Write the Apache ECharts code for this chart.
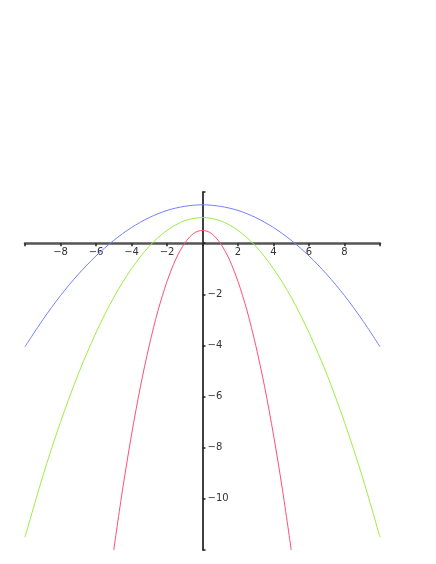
<!DOCTYPE html>
<html>
<head>
<meta charset="utf-8">
<script src="https://cdn.jsdelivr.net/npm/echarts@6/dist/echarts.min.js"></script>
<style>
  html, body { margin: 0; padding: 0; background: #fff; }
  #box { width: 436px; height: 564px; }
</style>
</head>
<body>
<div id="box"></div>
<script>
var chart = echarts.init(document.getElementById("box"));

// points, x from -10 to 10
var xBlue = [-10, -9, -8, -7, -6, -5, -4, -3, -2, -1, 0, 1, 2, 3, 4, 5, 6, 7, 8, 9, 10];
var yBlue = [-4.05, -3.0, -2.05, -1.22, -0.5, 0.11, 0.61, 1.0, 1.28, 1.44, 1.5, 1.44, 1.28, 1.0, 0.61, 0.11, -0.5, -1.22, -2.05, -3.0, -4.05];

var xGreen = [-10, -9, -8, -7, -6, -5, -4, -3, -2, -1, 0, 1, 2, 3, 4, 5, 6, 7, 8, 9, 10];
var yGreen = [-11.5, -9.12, -7.0, -5.12, -3.5, -2.12, -1.0, -0.12, 0.5, 0.88, 1.0, 0.88, 0.5, -0.12, -1.0, -2.12, -3.5, -5.12, -7.0, -9.12, -11.5];

var xRed = [-5, -4.5, -4, -3.5, -3, -2.5, -2, -1.5, -1, -0.5, 0, 0.5, 1, 1.5, 2, 2.5, 3, 3.5, 4, 4.5, 5];
var yRed = [-12, -9.62, -7.5, -5.62, -4.0, -2.62, -1.5, -0.62, 0.0, 0.38, 0.5, 0.38, 0.0, -0.62, -1.5, -2.62, -4.0, -5.62, -7.5, -9.62, -12];

var xTicks = [-8, -6, -4, -2, 2, 4, 6, 8];
var yTicks = [-2, -4, -6, -8, -10];

function pairs(xs, ys) {
  var out = [];
  for (var i = 0; i < xs.length; i++) out.push([xs[i], ys[i]]);
  return out;
}
function minus(v) {
  return String(v).replace('-', '\u2212');
}

// grid box: left 25, top 192, width 355, height 358
// axes are moved onto x=0 / y=0 with offsets (y=0 is 2 of 14 units down, x=0 is half way)
var gridL = 25, gridT = 192, gridW = 355, gridH = 358;

var option = {
  animation: false,
  grid: { left: gridL, top: gridT, width: gridW, height: gridH },
  xAxis: {
    type: 'value', min: -10, max: 10, interval: 2,
    position: 'bottom',
    offset: -gridH * 12 / 14,
    axisLine: { onZero: false, lineStyle: { color: '#555', width: 2.5 } },
    axisTick: { show: true, inside: false, length: 3, lineStyle: { color: '#222', width: 1.5 } },
    axisLabel: {
      margin: 4, fontSize: 10, color: '#333', fontFamily: 'DejaVu Sans',
      formatter: function (v) { return xTicks.indexOf(v) >= 0 ? minus(v) : ''; }
    },
    splitLine: { show: false }
  },
  yAxis: {
    type: 'value', min: -12, max: 2, interval: 2,
    position: 'left',
    offset: -gridW / 2,
    axisLine: { onZero: false, lineStyle: { color: '#000', width: 1.5 } },
    axisTick: { show: true, inside: true, length: 3, lineStyle: { color: '#222', width: 1.5 } },
    axisLabel: {
      inside: true, margin: 5, fontSize: 10, color: '#333', fontFamily: 'DejaVu Sans',
      formatter: function (v) { return yTicks.indexOf(v) >= 0 ? minus(v) : ''; }
    },
    splitLine: { show: false }
  },
  series: [
    { type: 'line', data: pairs(xBlue, yBlue), smooth: 0.3, showSymbol: false,
      lineStyle: { color: '#7080ff', width: 1 } },
    { type: 'line', data: pairs(xGreen, yGreen), smooth: 0.3, showSymbol: false,
      lineStyle: { color: '#99ee44', width: 1 } },
    { type: 'line', data: pairs(xRed, yRed), smooth: 0.3, showSymbol: false,
      lineStyle: { color: '#ff5070', width: 1 } }
  ]
};
chart.setOption(option);
</script>
</body>
</html>
